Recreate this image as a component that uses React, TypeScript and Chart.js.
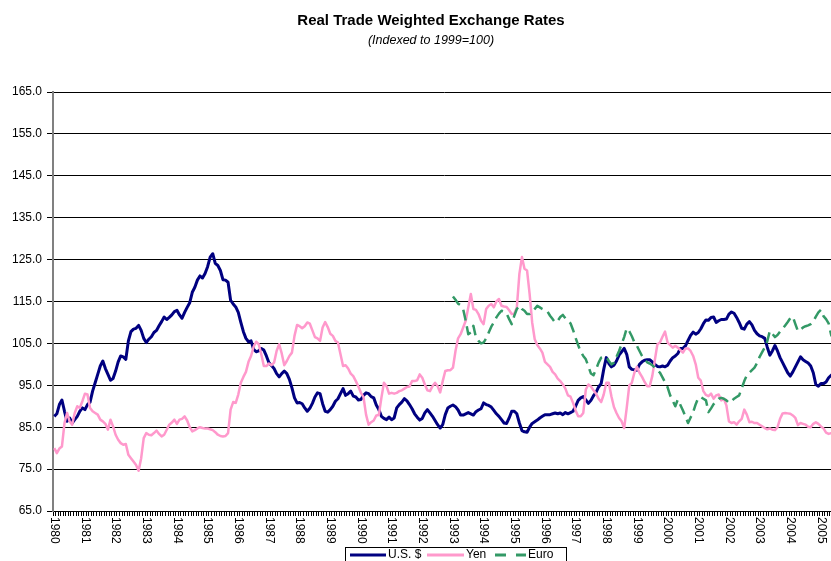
import React, { useEffect, useRef } from 'react';
import { Chart, registerables } from 'chart.js';

Chart.register(...registerables);

const FONT = "'Liberation Sans', Arial, sans-serif";
const TITLE = 'Real Trade Weighted Exchange Rates';
const SUBTITLE = '(Indexed to 1999=100)';

const yearLabels = [
  '1980', '1981', '1982', '1983', '1984', '1985', '1986', '1987', '1988', '1989',
  '1990', '1991', '1992', '1993', '1994', '1995', '1996', '1997', '1998', '1999',
  '2000', '2001', '2002', '2003', '2004', '2005',
];
const monthNames = ['Jan', 'Feb', 'Mar', 'Apr', 'May', 'Jun', 'Jul', 'Aug', 'Sep', 'Oct', 'Nov', 'Dec'];

// Monthly values, Jan 1980 onward
const usd = [
  87.6, 88.2, 90.4, 91.5, 88.8, 86.4, 87.2, 86.0, 86.8, 87.6, 88.8, 89.6,
  89.2, 90.4, 91.0, 93.6, 95.6, 97.6, 99.6, 100.8, 99.0, 97.6, 96.2, 96.6,
  98.4, 100.6, 102.0, 101.8, 101.2, 105.6, 107.8, 108.4, 108.6, 109.3, 108.1, 106.2,
  105.2, 106.0, 106.6, 107.6, 108.1, 109.2, 110.2, 111.3, 110.7, 111.2, 111.8, 112.6,
  112.9, 111.8, 111.0, 112.4, 113.6, 114.7, 117.2, 118.4, 120.1, 121.1, 120.6, 121.7,
  123.3, 125.6, 126.4, 124.1, 123.6, 122.4, 120.2, 120.1, 119.6, 115.3, 114.4, 113.7,
  112.4, 110.0, 107.8, 106.2, 105.4, 105.6, 103.6, 103.0, 103.2, 103.8, 103.4, 102.0,
  100.4, 99.7, 99.0, 97.8, 97.0, 97.8, 98.4, 97.8, 96.4, 94.4, 92.0, 90.8,
  90.9, 90.6, 89.6, 88.8, 89.5, 90.7, 92.2, 93.2, 93.0, 90.6, 88.8, 88.6,
  89.2, 90.0, 91.2, 91.8, 93.0, 94.2, 92.6, 93.0, 93.6, 92.4, 92.2, 91.5,
  91.6, 92.6, 93.2, 93.0, 92.3, 92.0, 90.3, 89.2, 87.6, 87.1, 86.8, 87.4,
  86.8, 87.2, 89.6, 90.4, 91.0, 91.8, 91.3, 90.4, 89.4, 88.2, 87.4, 86.7,
  87.1, 88.4, 89.2, 88.4, 87.6, 86.6, 85.6, 84.8, 85.6, 88.0, 89.6, 90.0,
  90.3, 89.9, 89.1, 87.9, 87.9, 88.2, 88.5, 88.2, 87.9, 88.7, 89.1, 89.4,
  90.8, 90.4, 90.2, 89.8, 89.0, 88.2, 87.6, 86.8, 86.0, 85.9, 87.2, 88.8,
  88.8, 88.2, 86.0, 84.2, 83.9, 83.8, 85.0, 85.9, 86.3, 86.7, 87.2, 87.6,
  88.0, 88.0, 88.0, 88.2, 88.4, 88.2, 88.4, 88.0, 88.5, 88.2, 88.5, 88.8,
  90.0, 91.4, 92.0, 92.3, 91.5, 90.7, 91.4, 92.5, 93.3, 94.6, 95.4, 98.8,
  101.6, 100.2, 99.4, 99.8, 100.8, 102.2, 103.0, 103.8, 102.4, 99.4, 98.8, 98.7,
  98.6, 100.0, 100.6, 101.0, 101.1, 101.1, 100.6, 100.0, 99.5, 99.4, 99.6, 99.4,
  99.8, 100.8, 101.6, 102.0, 102.6, 103.8, 103.8, 104.4, 105.7, 106.9, 107.7, 107.2,
  107.6, 108.5, 109.7, 110.6, 110.5, 111.2, 111.3, 110.0, 110.4, 110.7, 110.7, 110.8,
  112.0, 112.5, 112.2, 111.2, 110.0, 108.6, 108.4, 109.6, 110.2, 109.4, 108.1, 107.3,
  106.8, 106.6, 106.2, 104.1, 102.2, 103.2, 104.5, 103.2, 101.6, 100.4, 99.2, 98.0,
  97.2, 98.2, 99.4, 100.6, 101.8, 101.1, 100.7, 100.3, 99.6, 98.0, 95.2, 94.8,
  95.4, 95.4, 95.8, 96.8, 97.4, 97.8,
];

const yen = [
  80.0, 78.8, 79.9, 80.4, 86.0, 88.4, 86.4, 85.6, 88.4, 90.0, 89.6, 91.2,
  93.0, 92.8, 89.6, 88.8, 88.4, 88.0, 86.8, 86.4, 85.8, 84.4, 86.8, 85.2,
  83.2, 82.0, 81.2, 80.8, 81.0, 78.4, 77.6, 76.8, 76.0, 74.6, 77.6, 82.4,
  83.6, 83.2, 83.1, 83.6, 84.2, 83.4, 82.8, 83.2, 84.4, 85.6, 86.1, 86.8,
  85.8, 86.8, 87.0, 87.6, 86.6, 85.0, 84.0, 84.3, 84.7, 85.0, 84.8, 84.7,
  84.7, 84.5, 84.3, 83.8, 83.2, 82.9, 82.8, 82.9, 83.6, 89.2, 91.0, 90.8,
  92.8, 95.6, 97.0, 98.2, 100.6, 102.0, 104.2, 105.4, 104.8, 102.4, 99.6, 99.6,
  100.2, 99.8, 100.4, 103.2, 104.8, 102.6, 99.8, 100.8, 102.0, 102.8, 106.8, 109.4,
  109.1, 108.6, 109.1, 110.0, 109.7, 108.1, 106.5, 106.2, 105.6, 108.8, 110.1, 108.9,
  107.3, 106.8, 105.6, 105.2, 102.4, 99.6, 99.8, 99.0, 97.8, 97.2, 96.0, 94.7,
  93.2, 92.2, 88.0, 85.6, 86.2, 86.6, 87.8, 87.9, 92.0, 95.6, 94.8, 93.0,
  93.2, 93.0, 93.2, 93.6, 93.8, 94.2, 94.6, 94.7, 96.0, 96.0, 96.2, 97.6,
  96.8, 95.2, 93.8, 93.6, 94.8, 95.6, 94.8, 93.3, 96.0, 98.4, 98.6, 98.6,
  99.2, 103.2, 106.2, 107.2, 108.8, 110.4, 113.6, 116.8, 113.2, 113.0, 112.0, 110.4,
  109.6, 113.2, 114.0, 114.4, 113.6, 115.0, 115.6, 114.0, 113.8, 113.7, 112.9, 112.0,
  112.1, 113.6, 121.6, 125.6, 122.8, 122.4, 116.8, 110.0, 106.0, 104.6, 103.8, 102.8,
  100.6, 100.0, 99.4, 98.2, 97.6, 96.6, 96.0, 95.2, 94.2, 92.6, 92.3, 90.8,
  89.0, 87.6, 87.6, 88.4, 94.0, 95.2, 94.7, 93.8, 93.0, 91.8, 91.0, 92.8,
  95.6, 95.6, 92.4, 89.8, 88.4, 87.2, 86.4, 84.8, 89.6, 95.0, 95.6, 98.0,
  99.4, 98.0, 97.0, 95.8, 94.8, 94.8, 97.2, 101.0, 104.8, 105.2, 106.6, 107.8,
  105.2, 104.6, 104.0, 104.4, 104.0, 103.4, 102.8, 103.8, 103.8, 103.2, 102.0, 100.0,
  96.8, 96.1, 93.6, 92.7, 92.4, 93.0, 91.8, 92.6, 92.8, 91.4, 91.8, 90.2,
  86.4, 86.0, 86.2, 85.6, 86.4, 87.0, 89.2, 88.0, 86.2, 86.3, 86.0, 86.0,
  85.6, 85.2, 84.8, 84.5, 84.7, 84.4, 84.3, 85.0, 87.0, 88.3, 88.4, 88.3,
  88.2, 87.8, 87.2, 85.5, 86.0, 85.8, 85.6, 85.1, 85.0, 85.8, 86.2, 85.8,
  85.2, 84.7, 83.7, 83.4, 83.6, 83.5,
];

// Euro series begins in Jan 1993 (month index 156)
const euroStartIndex = 156;
const euroValues = [
  116.2, 115.4, 114.5, 114.1, 113.2, 110.4, 107.2, 107.6, 109.2, 106.4, 105.6, 105.0,
  105.2, 106.2, 107.6, 109.0, 110.0, 111.2, 112.1, 112.8, 112.6, 112.1, 110.8, 109.6,
  111.6, 113.2, 114.0, 113.2, 112.8, 112.0, 112.0, 112.4, 113.2, 114.0, 113.6, 113.2,
  112.9, 112.6, 111.6, 110.8, 110.0, 110.4, 111.3, 111.8, 111.0, 110.4, 109.8, 108.2,
  106.3, 104.6, 103.0, 102.0, 101.2, 99.5, 97.8, 97.4, 98.8, 100.4, 101.6, 101.8,
  101.8, 100.8, 100.0, 100.4, 101.8, 103.2, 104.8, 106.5, 108.6, 107.9, 106.7, 105.3,
  104.4, 103.2, 102.0, 101.2, 100.5, 100.2, 99.8, 99.2, 98.6, 98.0, 96.9, 95.7,
  94.5, 92.6, 91.3, 90.0, 91.6, 90.3, 89.0, 87.5, 86.0, 87.3, 88.6, 90.5,
  92.0, 92.2, 91.8, 91.4, 88.6, 89.5, 90.5, 91.2, 91.8, 92.0, 91.8, 91.4,
  90.8, 91.2, 91.8, 92.2, 92.6, 94.3, 96.0, 97.4, 98.0, 98.6, 99.2, 100.3,
  101.8, 102.9, 104.0, 105.5, 108.0, 107.3, 106.5, 107.0, 107.8, 108.5, 109.3, 110.1,
  111.0, 111.4, 109.6, 107.9, 108.3, 108.8, 109.1, 109.3, 109.6, 110.2, 111.4, 112.4,
  113.0, 111.5, 110.8, 109.8, 107.0, 106.0,
];

const yTicks = { min: 65, max: 165, step: 10 };

const categories = usd.map((_, i) => `${monthNames[i % 12]} ${yearLabels[Math.floor(i / 12)]}`);
const euro = categories.map((_, i) => (i >= euroStartIndex ? euroValues[i - euroStartIndex] ?? null : null));

const COLORS = { usd: '#000080', yen: '#FF99CC', euro: '#339966' };

const decorPlugin = {
  id: 'decor',
  afterDraw(chart: any) {
    const ctx: CanvasRenderingContext2D = chart.ctx;
    const xs = chart.scales.x;
    const area = chart.chartArea;
    ctx.save();
    ctx.fillStyle = '#000';
    ctx.textAlign = 'center';
    ctx.textBaseline = 'middle';
    ctx.font = `bold 15px ${FONT}`;
    ctx.fillText(TITLE, chart.width / 2, 21);
    ctx.font = `italic 12.5px ${FONT}`;
    ctx.fillText(SUBTITLE, chart.width / 2, 41);

    // year labels, rotated clockwise
    ctx.font = `12px ${FONT}`;
    yearLabels.forEach((lab, k) => {
      const idx = k * 12;
      if (idx >= categories.length) return;
      const px = xs.getPixelForValue(idx);
      ctx.save();
      ctx.translate(px, area.bottom + 6);
      ctx.rotate(Math.PI / 2);
      ctx.textAlign = 'left';
      ctx.textBaseline = 'middle';
      ctx.fillText(lab, 0, 0);
      ctx.restore();
    });

    // legend
    const lx = 345.5;
    const ly = 547.5;
    ctx.fillStyle = '#fff';
    ctx.fillRect(lx, ly, 221, 25);
    ctx.strokeStyle = '#000';
    ctx.lineWidth = 1;
    ctx.strokeRect(lx, ly, 221, 25);
    const my = 555;
    const items = [
      { label: 'U.S. $', color: COLORS.usd, x0: 350, x1: 386, dash: [] as number[], w: 3 },
      { label: 'Yen', color: COLORS.yen, x0: 427, x1: 464, dash: [] as number[], w: 3 },
      { label: 'Euro', color: COLORS.euro, x0: 495, x1: 526, dash: [11, 10], w: 3 },
    ];
    items.forEach((it) => {
      ctx.beginPath();
      ctx.setLineDash(it.dash);
      ctx.strokeStyle = it.color;
      ctx.lineWidth = it.w;
      ctx.moveTo(it.x0, my);
      ctx.lineTo(it.x1, my);
      ctx.stroke();
      ctx.setLineDash([]);
      ctx.fillStyle = '#000';
      ctx.font = `12px ${FONT}`;
      ctx.textAlign = 'left';
      ctx.textBaseline = 'middle';
      ctx.fillText(it.label, it.x1 + 2, my);
    });
    ctx.restore();
  },
};

export default function App() {
  const canvasRef = useRef<HTMLCanvasElement | null>(null);

  useEffect(() => {
    const canvas = canvasRef.current;
    if (!canvas) return;
    Chart.defaults.font.family = FONT;
    const chart = new Chart(canvas, {
      type: 'line',
      data: {
        labels: categories,
        datasets: [
          {
            label: 'U.S. $',
            data: usd,
            borderColor: COLORS.usd,
            backgroundColor: COLORS.usd,
            borderWidth: 3,
            order: 2,
          },
          {
            label: 'Yen',
            data: yen,
            borderColor: COLORS.yen,
            backgroundColor: COLORS.yen,
            borderWidth: 2.5,
            order: 1,
          },
          {
            label: 'Euro',
            data: euro,
            borderColor: COLORS.euro,
            backgroundColor: COLORS.euro,
            borderWidth: 2.5,
            borderDash: [11, 6],
            spanGaps: false,
            order: 0,
          },
        ],
      },
      options: {
        responsive: false,
        animation: false,
        devicePixelRatio: 1,
        layout: { padding: { top: 92, right: 27, left: 0, bottom: 0 } },
        plugins: {
          legend: { display: false },
          title: { display: false },
          tooltip: { enabled: false },
        },
        elements: {
          point: { radius: 0, hoverRadius: 0 },
          line: { tension: 0, borderJoinStyle: 'round', borderCapStyle: 'butt', fill: false },
        },
        scales: {
          x: {
            type: 'category',
            offset: true,
            grid: {
              offset: true,
              drawOnChartArea: false,
              drawTicks: true,
              tickLength: 5,
              color: '#000',
              lineWidth: 1,
            },
            border: { display: true, color: '#000', width: 1 },
            ticks: { display: false, autoSkip: false },
            afterFit: (s: any) => {
              s.height = 50;
            },
          },
          y: {
            min: yTicks.min,
            max: yTicks.max,
            ticks: {
              stepSize: yTicks.step,
              callback: (v: any) => Number(v).toFixed(1),
              color: '#000',
              font: { size: 12, family: FONT },
              padding: 5,
            },
            grid: { color: '#000', lineWidth: 1, tickLength: 6, drawTicks: true },
            border: { color: '#808080', width: 2 },
            afterFit: (s: any) => {
              s.width = 53;
            },
          },
        },
      } as any,
      plugins: [decorPlugin],
    });
    return () => chart.destroy();
  }, []);

  return (
    <div
      style={{
        position: 'fixed',
        left: 0,
        top: 0,
        width: 831,
        height: 561,
        overflow: 'hidden',
        background: '#fff',
      }}
    >
      <canvas
        ref={canvasRef}
        width={862}
        height={561}
        style={{ display: 'block', width: 862, height: 561 }}
      />
    </div>
  );
}
